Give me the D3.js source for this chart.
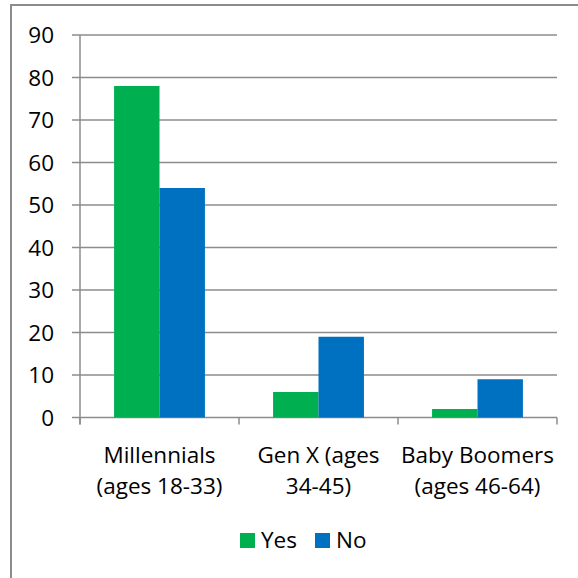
<!DOCTYPE html>
<html>
<head>
<meta charset="utf-8">
<script src="https://cdn.jsdelivr.net/npm/d3@7"></script>
<style>
html,body{margin:0;padding:0;background:#fff;}
svg{display:block;}
text{font-family:"Open Sans",sans-serif;fill:#000;}
</style>
</head>
<body>
<script>
const categories = [["Millennials","(ages 18-33)"],["Gen X (ages","34-45)"],["Baby Boomers","(ages 46-64)"]];
const seriesNames = ["Yes","No"];
const yesValues = [78, 6, 2];
const noValues = [54, 19, 9];
const yTicks = [0,10,20,30,40,50,60,70,80,90];
const colors = ["#00B050","#0070C0"];

(function(){
const W = 578, H = 578;
const FS = "22.5px";
const svg = d3.select("body").append("svg").attr("width", W).attr("height", H);

// chart border
svg.append("rect").attr("x", 11).attr("y", 5).attr("width", 600).attr("height", 600)
  .attr("fill", "none").attr("stroke", "#8c8c8c").attr("stroke-width", 2);

const pLeft = 80, pRight = 557, pTop = 35, pBottom = 417.5;
const catKeys = categories.map((c,i)=>i);
const x0 = d3.scaleBand().domain(catKeys).range([pLeft, pRight]).paddingInner(0).paddingOuter(0);
const x1 = d3.scaleBand().domain(seriesNames).range([0, x0.bandwidth()]).paddingInner(0).paddingOuter(0.75);
const y = d3.scaleLinear().domain([0, 90]).range([pBottom, pTop]);

// gridlines + ticks
svg.append("g").selectAll("line").data(yTicks).enter().append("line")
  .attr("x1", pLeft - 8).attr("x2", pRight)
  .attr("y1", d => y(d)).attr("y2", d => y(d))
  .attr("stroke", "#8c8c8c").attr("stroke-width", 1.5);

// y labels
svg.append("g").selectAll("text").data(yTicks).enter().append("text")
  .attr("x", 54).attr("y", d => y(d)).attr("dy", "0.36em")
  .attr("text-anchor", "end").attr("font-size", FS).text(d => d);

// bars
const data = catKeys.map(i => ({i, vals:[{s:"Yes", v:yesValues[i]},{s:"No", v:noValues[i]}]}));
const groups = svg.append("g").selectAll("g").data(data).enter().append("g")
  .attr("transform", d => `translate(${x0(d.i)},0)`);
groups.selectAll("rect").data(d => d.vals).enter().append("rect")
  .attr("x", d => x1(d.s)).attr("width", x1.bandwidth())
  .attr("y", d => y(d.v)).attr("height", d => y(0) - y(d.v))
  .attr("fill", (d,j) => colors[j]);

// axes lines
svg.append("line").attr("x1", pLeft).attr("x2", pLeft).attr("y1", pTop).attr("y2", pBottom + 7)
  .attr("stroke", "#8c8c8c").attr("stroke-width", 1.5);
const catTicks = catKeys.map(i => x0(i)).concat([pRight]);
svg.append("g").selectAll("line").data(catTicks).enter().append("line")
  .attr("x1", d => d).attr("x2", d => d).attr("y1", pBottom).attr("y2", pBottom + 7)
  .attr("stroke", "#8c8c8c").attr("stroke-width", 1.5);

// category labels
const lab = svg.append("g").selectAll("text").data(catKeys).enter().append("text")
  .attr("text-anchor", "middle").attr("font-size", FS);
lab.each(function(i){
  const t = d3.select(this);
  categories[i].forEach((line, k) => {
    t.append("tspan").attr("x", x0(i) + x0.bandwidth()/2).attr("y", 463 + k*31).text(line);
  });
});

// legend
const legend = svg.append("g");
const legX = [240, 315];
seriesNames.forEach((s, j) => {
  legend.append("rect").attr("x", legX[j]).attr("y", 533).attr("width", 15).attr("height", 15).attr("fill", colors[j]);
  legend.append("text").attr("x", legX[j] + 21).attr("y", 548).attr("font-size", FS).text(s);
});
})();
</script>
</body>
</html>
